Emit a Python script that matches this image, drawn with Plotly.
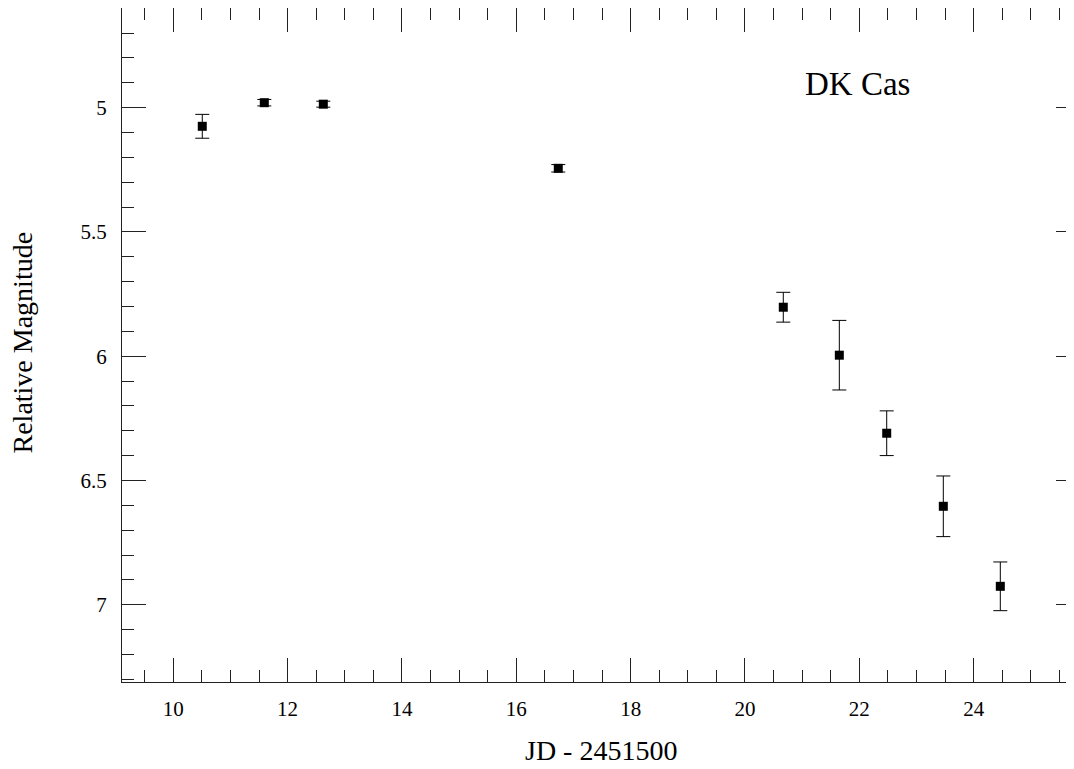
import plotly.graph_objects as go

jd = [10.507, 11.592, 12.624, 16.734, 20.670, 21.650, 22.479, 23.469, 24.466]
mag = [5.075, 4.980, 4.986, 5.244, 5.803, 5.996, 6.310, 6.604, 6.926]
mag_err = [0.048, 0.013, 0.012, 0.015, 0.060, 0.140, 0.090, 0.122, 0.098]

star_name = "DK Cas"
x_title = "JD - 2451500"
y_title = "Relative Magnitude"

X_RANGE = [9.103, 25.615]
Y_RANGE = [7.311, 4.599]
FONT = "Liberation Serif, Times New Roman, serif"

# page is offset by the browser's 8px body margin
PLOT_L, PLOT_R, PLOT_T, PLOT_B = 122, 1066, 8, 682


def px(page_x):
    return (page_x - PLOT_L) / (PLOT_R - PLOT_L)


def py(page_y):
    return (PLOT_B - page_y) / (PLOT_B - PLOT_T)


fig = go.Figure()
fig.add_trace(go.Scatter(
    x=jd, y=mag, mode="markers",
    marker=dict(symbol="square", size=9, color="black", line=dict(width=0)),
    error_y=dict(type="data", array=mag_err, visible=True, color="black",
                 thickness=1, width=7),
    showlegend=False,
))
# invisible trace to activate the right-hand tick axis
fig.add_trace(go.Scatter(x=[jd[0]], y=[mag[0]], yaxis="y2", mode="markers",
                         marker=dict(opacity=0), showlegend=False, hoverinfo="skip"))

fig.update_layout(
    width=1058, height=753,
    margin=dict(l=114, r=0, t=0, b=79, autoexpand=False),
    paper_bgcolor="white", plot_bgcolor="white",
    font=dict(family=FONT, color="black", size=21),
    xaxis=dict(
        range=X_RANGE, showgrid=False, zeroline=False, automargin=False,
        showline=True, linecolor="#222", linewidth=1, mirror="ticks",
        ticks="inside", ticklen=24, tickwidth=1, tickcolor="#222",
        tick0=0, dtick=2,
        minor=dict(ticks="inside", ticklen=12, dtick=0.5, tick0=0, tickcolor="#222", showgrid=False),
        tickfont=dict(size=21, family=FONT),
        ticklabelstandoff=8,
    ),
    yaxis=dict(
        range=Y_RANGE, showgrid=False, zeroline=False, automargin=False,
        showline=True, linecolor="#222", linewidth=1,
        ticks="inside", ticklen=24, tickwidth=1, tickcolor="#222",
        tick0=0, dtick=0.5,
        minor=dict(ticks="inside", ticklen=12, dtick=0.1, tick0=0, tickcolor="#222", showgrid=False),
        tickfont=dict(size=21, family=FONT),
        ticklabelstandoff=10,
    ),
    yaxis2=dict(
        range=Y_RANGE, overlaying="y", side="right", showgrid=False, zeroline=False,
        showline=False, showticklabels=False, automargin=False,
        ticks="inside", ticklen=10, tickwidth=1, tickcolor="#222",
        tick0=0, dtick=0.5,
    ),
    annotations=[
        dict(x=21.02, y=4.905, xref="x", yref="y", text=star_name, showarrow=False,
             xanchor="left", yanchor="middle", font=dict(size=33, family=FONT, color="black")),
        dict(x=px(600.5), y=py(750), xref="paper", yref="paper",
             text=x_title, showarrow=False, xanchor="center", yanchor="middle",
             font=dict(size=28, family=FONT, color="black")),
        dict(x=px(21.5), y=py(343), xref="paper", yref="paper",
             text=y_title, showarrow=False, xanchor="center", yanchor="middle", textangle=-90,
             font=dict(size=28, family=FONT, color="black")),
    ],
)

fig.write_html("out.html")
